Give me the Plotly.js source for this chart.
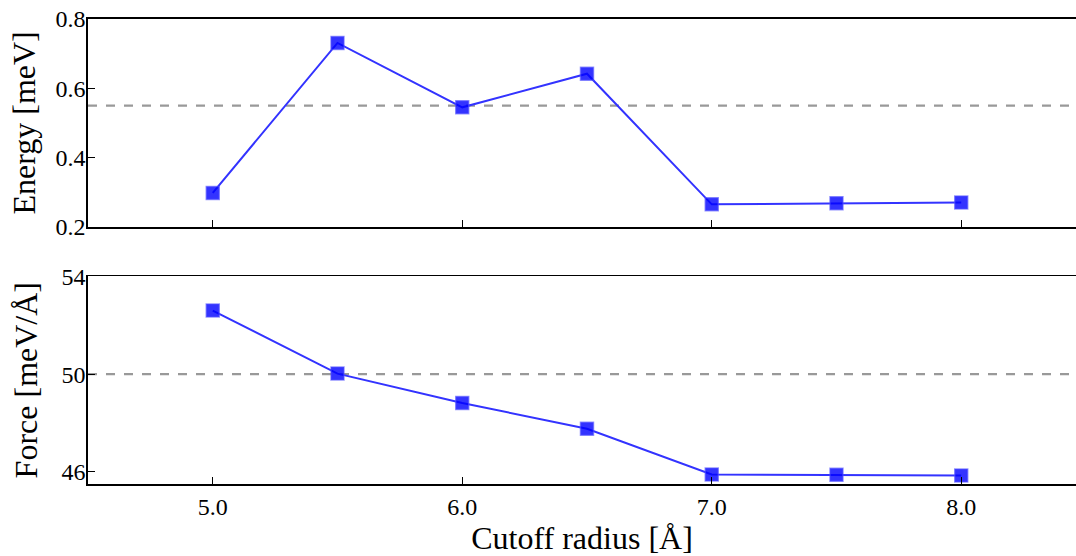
<!DOCTYPE html>
<html><head><meta charset="utf-8">
<script src="https://cdn.plot.ly/plotly-3.0.1.min.js"></script>
<style>html,body{margin:0;padding:0;background:#fff}</style>
</head><body>
<div id="chart" style="width:1076px;height:556px"></div>
<script>
const cutoff = [5.0, 5.5, 6.0, 6.5, 7.0, 7.5, 8.0];
const energy = [0.298, 0.731, 0.545, 0.642, 0.265, 0.268, 0.270];
const force = [52.6, 50.02, 48.82, 47.76, 45.89, 45.88, 45.85];
const energyRef = 0.55;
const forceRef = 50.0;
const xTicks = [5.0, 6.0, 7.0, 8.0];
const xTickLabels = ['5.0', '6.0', '7.0', '8.0'];
const eTicks = [0.2, 0.4, 0.6, 0.8];
const eTickLabels = ['0.2', '0.4', '0.6', '0.8'];
const fTicks = [46, 50, 54];
const fTickLabels = ['46', '50', '54'];

const font = 'Liberation Serif';
const lineColor = '#3333ff';
const marker = {symbol: 'square', size: 13, color: 'rgba(0,0,255,0.8)', line: {color: 'rgba(80,80,255,0.6)', width: 1.5}};

const traces = [
  {x: cutoff, y: energy, xaxis: 'x', yaxis: 'y', mode: 'lines+markers', line: {color: lineColor, width: 2}, marker: marker, showlegend: false},
  {x: cutoff, y: force, xaxis: 'x2', yaxis: 'y2', mode: 'lines+markers', line: {color: lineColor, width: 2}, marker: marker, showlegend: false}
];

function ax(extra) {
  return Object.assign({showline: true, linecolor: '#000', linewidth: 1.8, ticks: 'inside', ticklen: 7, tickwidth: 1.2, tickcolor: '#000', showgrid: false, zeroline: false,
    tickfont: {family: font, size: 24, color: '#000'}}, extra);
}
const titleFont = {family: font, size: 32, color: '#000'};

const layout = {
  width: 1076, height: 556,
  margin: {l: 88, r: 0, t: 19, b: 72},
  paper_bgcolor: '#fff', plot_bgcolor: '#fff',
  font: {family: font, color: '#000', size: 24},
  xaxis: ax({domain: [0, 1], anchor: 'y', range: [4.5, 8.46], tickvals: xTicks, ticktext: xTickLabels, showticklabels: false, mirror: true, matches: 'x2'}),
  yaxis: ax({domain: [0.553, 1], anchor: 'x', range: [0.2, 0.8], tickvals: eTicks, ticktext: eTickLabels, ticklabelstandoff: -4,
    title: {text: 'Energy [meV]', font: titleFont, standoff: 10}}),
  xaxis2: ax({domain: [0, 1], anchor: 'y2', range: [4.5, 8.46], tickvals: xTicks, ticktext: xTickLabels, mirror: true,
    title: {text: 'Cutoff radius [Å]', font: titleFont, standoff: 10}}),
  yaxis2: ax({domain: [0, 0.4464], anchor: 'x2', range: [45.5, 54], tickvals: fTicks, ticktext: fTickLabels, ticklabelstandoff: -4,
    title: {text: 'Force [meV/Å]', font: titleFont, standoff: 14}}),
  shapes: [
    {type: 'line', xref: 'x domain', yref: 'y', x0: 0, x1: 1, y0: energyRef, y1: energyRef, line: {color: '#999999', width: 2.2, dash: 'dash'}, layer: 'below'},
    {type: 'line', xref: 'x2 domain', yref: 'y2', x0: 0, x1: 1, y0: forceRef, y1: forceRef, line: {color: '#999999', width: 2.2, dash: 'dash'}, layer: 'below'}
  ]
};

Plotly.newPlot('chart', traces, layout, {displayModeBar: false, staticPlot: true});
</script>
</body></html>
